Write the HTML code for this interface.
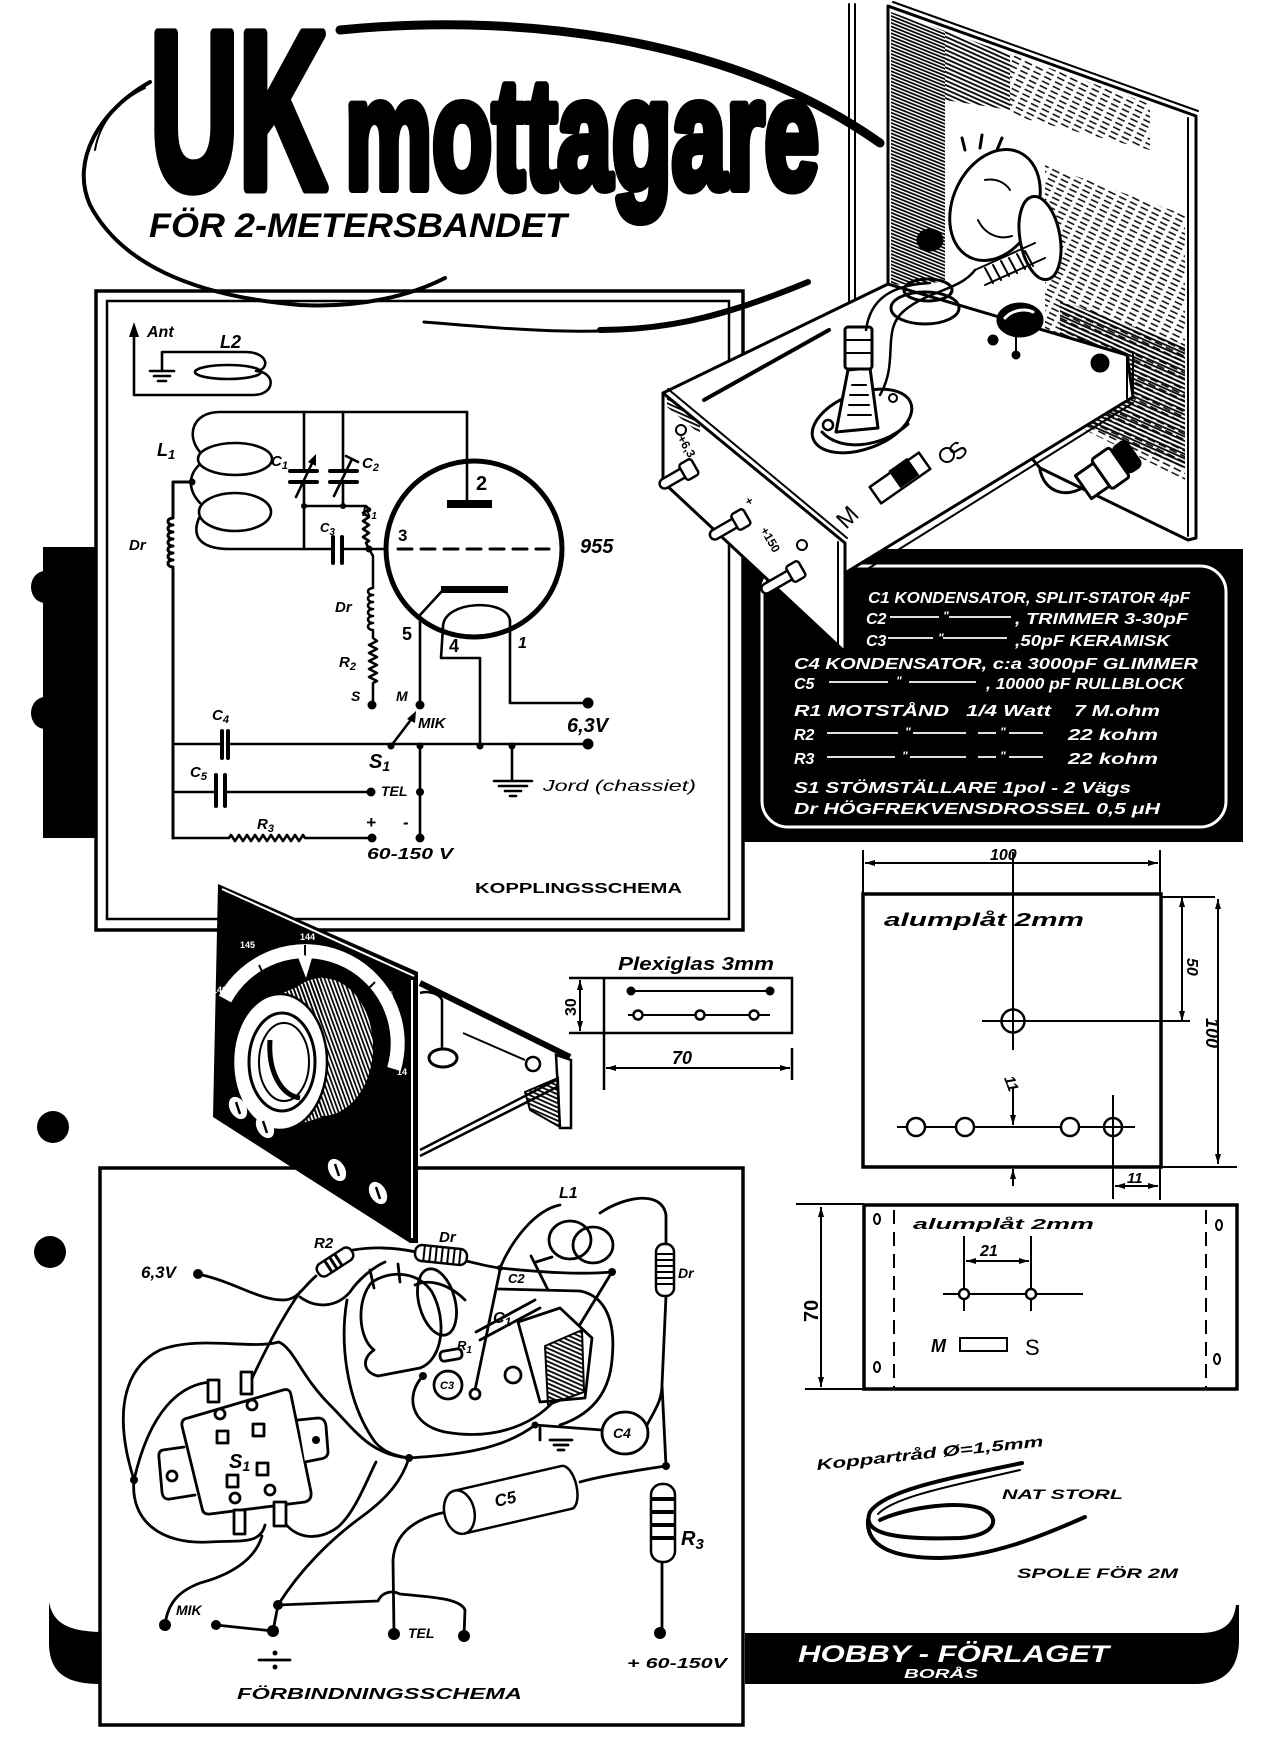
<!DOCTYPE html>
<html><head><meta charset="utf-8">
<style>
html,body{margin:0;padding:0;background:#fff;}
svg{display:block;}
text{font-family:"Liberation Sans",sans-serif;}
.i{font-style:italic;font-weight:bold;}
.b{font-weight:bold;}
</style></head><body>
<svg width="1267" height="1747" viewBox="0 0 1267 1747" xmlns="http://www.w3.org/2000/svg">
<defs>
<pattern id="hd" width="8" height="4" patternUnits="userSpaceOnUse" patternTransform="rotate(24)"><line x1="0" y1="1" x2="8" y2="1" stroke="#000" stroke-width="1.8"/></pattern>
<pattern id="hs" width="10" height="3.2" patternUnits="userSpaceOnUse" patternTransform="rotate(22)"><line x1="0" y1="1" x2="10" y2="1" stroke="#000" stroke-width="1.7"/></pattern>
<pattern id="hl" width="12" height="5" patternUnits="userSpaceOnUse" patternTransform="rotate(26)"><line x1="0" y1="1" x2="8" y2="1" stroke="#000" stroke-width="1.5"/></pattern>
<pattern id="hk" width="4" height="3.6" patternUnits="userSpaceOnUse" patternTransform="rotate(70)"><line x1="0" y1="1" x2="4" y2="1" stroke="#000" stroke-width="1.7"/></pattern>
<marker id="a" viewBox="0 0 10 6" refX="10" refY="3" markerWidth="10" markerHeight="6" markerUnits="userSpaceOnUse" orient="auto-start-reverse"><path d="M0,0 L10,3 L0,6 Z" fill="#000"/></marker>
</defs>
<rect width="1267" height="1747" fill="#fff"/>

<!-- title swoosh -->
<g fill="none" stroke="#000" stroke-linecap="round">
<path d="M150,82 C100,110 70,160 90,205 C120,262 190,296 300,305 C360,308 410,296 445,278" stroke-width="4"/>
<path d="M95,150 C100,120 120,100 145,88" stroke-width="2"/>
<path d="M340,30 C500,14 720,30 880,143" stroke-width="9"/>
<path d="M424,322 C520,330 610,338 680,322 C740,308 780,292 808,282" stroke-width="3"/>
<path d="M600,330 C680,330 740,310 808,282" stroke-width="6"/>
</g>

<!-- title -->
<text x="150" y="188" font-size="224" font-weight="bold" textLength="177" lengthAdjust="spacingAndGlyphs" stroke="#000" stroke-width="11" stroke-linejoin="round">UK</text>
<text x="345" y="188" font-size="156" font-weight="bold" textLength="474" lengthAdjust="spacingAndGlyphs" stroke="#000" stroke-width="10" stroke-linejoin="round">mottagare</text>
<text x="149" y="237" class="i" font-size="34" textLength="418" lengthAdjust="spacingAndGlyphs">FÖR 2-METERSBANDET</text>

<!-- left strip and dots -->
<rect x="43" y="547" width="54" height="291" fill="#000"/>
<ellipse cx="45" cy="587" rx="14" ry="16" fill="#000"/>
<ellipse cx="45" cy="713" rx="14" ry="16" fill="#000"/>
<circle cx="53" cy="1127" r="16" fill="#000"/>
<circle cx="50" cy="1252" r="16" fill="#000"/>

<!-- upper schematic frame -->
<rect x="96" y="291" width="647" height="639" fill="none" stroke="#000" stroke-width="3.5"/>
<rect x="107" y="301" width="622" height="618" fill="none" stroke="#000" stroke-width="2.5"/>

<!-- schematic -->
<g fill="none" stroke="#000" stroke-width="2.6" stroke-linecap="round" stroke-linejoin="round">
<path d="M134,330 V395 H253 C276,395 276,372 256,371"/>
<path d="M162,371 V352 H245 C268,352 270,368 258,371"/>
<ellipse cx="228" cy="372" rx="33" ry="7"/>
<path d="M150,371 H174 M154,376 H170 M158,381 H166"/>
<path d="M467,412 H220 C192,412 186,436 200,452"/>
<ellipse cx="235" cy="459" rx="37" ry="16"/>
<ellipse cx="235" cy="512" rx="36" ry="19"/>
<path d="M199,465 C188,476 188,490 200,503"/>
<path d="M199,518 C190,540 205,549 230,549 H333"/>
<path d="M192,482 H173 V518 a5,3.5 0 1 0 0,7 a5,3.5 0 1 0 0,7 a5,3.5 0 1 0 0,7 a5,3.5 0 1 0 0,7 a5,3.5 0 1 0 0,7 a5,3.5 0 1 0 0,7 a5,3.5 0 1 0 0,7 V838" stroke-width="3"/>
<circle cx="474" cy="549" r="88" stroke-width="5"/>
<path d="M467,412 V502"/>
<path d="M398,549 H549" stroke-width="3" stroke-dasharray="14,9"/>
<path d="M443,590 L420,615 V705"/>
<path d="M443,627 C443,600 508,598 510,621"/>
<path d="M443,627 L441,658 H480 V746"/>
<path d="M510,621 V703 H588"/>
<path d="M304,412 V471 M304,482 V549"/>
<path d="M290,471 H317 M290,482 H317" stroke-width="4"/>
<path d="M296,497 L314,459"/>
<path d="M343,412 V471 M343,482 V506 M304,506 H365"/>
<path d="M330,471 H357 M330,482 H357" stroke-width="4"/>
<path d="M334,496 L352,459 M346,456 L358,462"/>
<path d="M333,537 V563 M342,537 V563" stroke-width="4"/>
<path d="M342,549 H386"/>
<path d="M366,506 l3,3 l-6,4 l6,4 l-6,4 l6,4 l-6,4 l6,4 l-6,4 l6,4 l-3,2 L369,549"/>
<path d="M369,549 L373,556 V588 a5,3.5 0 1 0 0,7 a5,3.5 0 1 0 0,7 a5,3.5 0 1 0 0,7 a5,3.5 0 1 0 0,7 a5,3.5 0 1 0 0,7 a5,3.5 0 1 0 0,7 V638 l4,3 l-8,4 l8,4 l-8,4 l8,4 l-8,4 l8,4 l-8,4 l8,4 l-8,4 l8,4 l-4,2 V705" stroke-width="2.5"/>
<path d="M173,744 H222 M228,744 H588"/>
<path d="M222,731 V758 M228,731 V758" stroke-width="4"/>
<path d="M173,792 H216 M225,792 H371"/>
<path d="M216,775 V806 M225,775 V806" stroke-width="4"/>
<path d="M173,838 H229 l2,-3 l4,6 l4,-6 l4,6 l4,-6 l4,6 l4,-6 l4,6 l4,-6 l4,6 l4,-6 l4,6 l4,-6 l4,6 l4,-6 l4,6 l4,-6 l4,6 l4,-6 l2,3 H372"/>
<path d="M420,744 V838"/>
<path d="M512,744 V781 M494,781 H532 M499,786 H527 M505,791 H521 M510,796 H516"/>
<path d="M391,746 L413,717"/>
</g>
<g fill="#000">
<path d="M129,337 L134,322 L139,337 Z"/>
<rect x="447" y="500" width="45" height="8"/>
<rect x="441" y="586" width="67" height="7"/>
<path d="M308,462 L316,454 L316,466 Z"/>
<path d="M407,719 L416,711 L415,723 Z"/>
<circle cx="192" cy="482" r="3.5"/><circle cx="304" cy="506" r="3"/><circle cx="343" cy="506" r="3"/><circle cx="369" cy="549" r="3.5"/>
<circle cx="391" cy="746" r="3.5"/><circle cx="420" cy="746" r="3.5"/><circle cx="480" cy="746" r="3.5"/><circle cx="512" cy="746" r="3.5"/>
<circle cx="588" cy="744" r="5.5"/><circle cx="588" cy="703" r="5.5"/><circle cx="420" cy="705" r="4.5"/><circle cx="372" cy="705" r="4.5"/>
<circle cx="371" cy="792" r="4.5"/><circle cx="420" cy="792" r="4"/><circle cx="372" cy="838" r="4.5"/><circle cx="420" cy="838" r="4.5"/>
</g>
<g class="i" fill="#000">
<text x="147" y="337" font-size="16">Ant</text>
<text x="220" y="348" font-size="18">L2</text>
<text x="157" y="456" font-size="18">L<tspan font-size="13" dy="3">1</tspan></text>
<text x="271" y="466" font-size="15">C<tspan font-size="11" dy="3">1</tspan></text>
<text x="362" y="468" font-size="15">C<tspan font-size="11" dy="3">2</tspan></text>
<text x="320" y="532" font-size="13">C<tspan font-size="10" dy="3">3</tspan></text>
<text x="362" y="516" font-size="13">R<tspan font-size="10" dy="3">1</tspan></text>
<text x="129" y="550" font-size="15">Dr</text>
<text x="335" y="612" font-size="15">Dr</text>
<text x="339" y="667" font-size="15">R<tspan font-size="11" dy="3">2</tspan></text>
<text x="351" y="701" font-size="14">S</text>
<text x="396" y="701" font-size="14">M</text>
<text x="476" y="490" font-size="20" font-style="normal">2</text>
<text x="398" y="541" font-size="17" font-style="normal">3</text>
<text x="580" y="553" font-size="20">955</text>
<text x="402" y="640" font-size="18" font-style="normal">5</text>
<text x="449" y="652" font-size="18" font-style="normal">4</text>
<text x="518" y="648" font-size="16">1</text>
<text x="212" y="720" font-size="15">C<tspan font-size="11" dy="3">4</tspan></text>
<text x="190" y="777" font-size="15">C<tspan font-size="11" dy="3">5</tspan></text>
<text x="257" y="829" font-size="15">R<tspan font-size="11" dy="3">3</tspan></text>
<text x="418" y="728" font-size="15">MIK</text>
<text x="567" y="732" font-size="20">6,3V</text>
<text x="369" y="768" font-size="20">S<tspan font-size="14" dy="3">1</tspan></text>
<text x="381" y="796" font-size="14">TEL</text>
<text x="366" y="828" font-size="17">+</text>
<text x="403" y="828" font-size="17">-</text>
<text x="367" y="859" font-size="16" textLength="86" lengthAdjust="spacingAndGlyphs">60-150 V</text>
<text x="543" y="791" font-size="16" font-weight="normal" textLength="153" lengthAdjust="spacingAndGlyphs">Jord (chassiet)</text>
</g>
<text x="475" y="893" class="b" font-size="15" textLength="207" lengthAdjust="spacingAndGlyphs">KOPPLINGSSCHEMA</text>

<!-- dark legend box -->
<rect x="743" y="549" width="500" height="293" fill="#000"/>
<rect x="762" y="566" width="464" height="261" rx="26" fill="none" stroke="#fff" stroke-width="3"/>
<g class="i" fill="#fff" font-size="16">
<text x="868" y="603" textLength="322" lengthAdjust="spacingAndGlyphs">C1 KONDENSATOR, SPLIT-STATOR  4pF</text>
<text x="866" y="624">C2</text><text x="943" y="620" font-size="12">"</text>
<text x="1015" y="624" textLength="173" lengthAdjust="spacingAndGlyphs">, TRIMMER  3-30pF</text>
<text x="866" y="646">C3</text><text x="938" y="642" font-size="12">"</text>
<text x="1015" y="646" textLength="155" lengthAdjust="spacingAndGlyphs">,50pF KERAMISK</text>
<text x="794" y="669" textLength="404" lengthAdjust="spacingAndGlyphs">C4 KONDENSATOR, c:a  3000pF GLIMMER</text>
<text x="794" y="689">C5</text><text x="896" y="685" font-size="12">"</text>
<text x="986" y="689" textLength="198" lengthAdjust="spacingAndGlyphs">, 10000 pF RULLBLOCK</text>
<text x="794" y="716" textLength="155" lengthAdjust="spacingAndGlyphs">R1 MOTSTÅND</text>
<text x="966" y="716" textLength="85" lengthAdjust="spacingAndGlyphs">1/4 Watt</text>
<text x="1074" y="716" textLength="86" lengthAdjust="spacingAndGlyphs">7 M.ohm</text>
<text x="794" y="740">R2</text><text x="905" y="736" font-size="12">"</text><text x="1000" y="736" font-size="12">"</text>
<text x="1068" y="740" textLength="90" lengthAdjust="spacingAndGlyphs">22 kohm</text>
<text x="794" y="764">R3</text><text x="902" y="760" font-size="12">"</text><text x="1000" y="760" font-size="12">"</text>
<text x="1068" y="764" textLength="90" lengthAdjust="spacingAndGlyphs">22 kohm</text>
<text x="794" y="793" textLength="337" lengthAdjust="spacingAndGlyphs">S1 STÖMSTÄLLARE  1pol - 2 Vägs</text>
<text x="794" y="814" textLength="366" lengthAdjust="spacingAndGlyphs">Dr HÖGFREKVENSDROSSEL  0,5 μH</text>
</g>
<g stroke="#fff" stroke-width="1.8">
<path d="M890,617 H939 M949,617 H1011"/>
<path d="M888,638 H933 M943,638 H1007"/>
<path d="M829,682 H888 M909,682 H976"/>
<path d="M827,733 H898 M913,733 H966 M978,733 H996 M1009,733 H1043"/>
<path d="M827,757 H895 M910,757 H966 M978,757 H996 M1009,757 H1043"/>
</g>

<!-- 3D chassis illustration -->
<g stroke="#000" stroke-linecap="round" stroke-linejoin="round">
<polygon points="888,6 1196,116 1196,538 1188,540 1040,468 888,290" fill="#fff" stroke-width="3"/>
<path d="M893,2 L1198,111" stroke-width="2" fill="none"/>
<path d="M1188,118 V536" stroke-width="2"/>
<polygon points="891,12 945,31 945,282 891,285" fill="url(#hs)" stroke="none"/>
<polygon points="945,31 1010,54 1010,110 945,100" fill="url(#hd)" stroke="none"/>
<polygon points="1010,54 1150,104 1150,150 1010,115" fill="url(#hl)" stroke="none"/>
<polygon points="1045,165 1185,215 1185,480 1045,410" fill="url(#hl)" stroke="none"/>
<polygon points="1060,300 1185,345 1185,470 1060,415" fill="url(#hd)" stroke="none"/>
<path d="M849,4 V320 C849,330 853,336 858,340 M855,4 V318 C855,326 859,332 864,336" stroke-width="2" fill="none"/>
<polygon points="663,393 888,284 1127,355 1133,397 845,573" fill="#fff" stroke-width="3"/>
<path d="M704,400 L829,330" stroke-width="4"/>
<path d="M1127,355 V398 M1133,352 V397" stroke-width="2"/>
<path d="M1133,403 L850,580" stroke-width="2"/>
<polygon points="663,393 845,543 845,652 663,482" fill="#fff" stroke-width="3"/>
<path d="M668,389 L847,538" stroke-width="2"/>
<polygon points="667,396 700,423 700,434 667,407" fill="url(#hd)" stroke="none"/>
<path d="M838,542 V648" stroke-width="2"/>
<circle cx="681" cy="430" r="5" fill="none" stroke-width="2"/>
<circle cx="802" cy="545" r="5" fill="none" stroke-width="2"/>
<g transform="translate(688,470) rotate(-30)"><rect x="-32" y="-5" width="30" height="10" rx="5" fill="#fff" stroke-width="2.5"/><rect x="-6" y="-9" width="14" height="18" rx="3" fill="#fff" stroke-width="2.5"/></g>
<g transform="translate(740,520) rotate(-30)"><rect x="-34" y="-5" width="32" height="10" rx="5" fill="#fff" stroke-width="2.5"/><rect x="-6" y="-9" width="14" height="18" rx="3" fill="#fff" stroke-width="2.5"/></g>
<g transform="translate(795,572) rotate(-30)"><rect x="-38" y="-5" width="36" height="10" rx="5" fill="#fff" stroke-width="2.5"/><rect x="-6" y="-9" width="14" height="18" rx="3" fill="#fff" stroke-width="2.5"/></g>
<ellipse cx="862" cy="421" rx="52" ry="28" transform="rotate(-20 862 421)" fill="#fff" stroke-width="3"/>
<path d="M822,432 C840,452 882,448 908,424" stroke-width="3" fill="none"/>
<circle cx="828" cy="425" r="5" stroke-width="2.5" fill="#fff"/>
<circle cx="893" cy="398" r="4" stroke-width="2" fill="#fff"/>
<polygon points="836,432 878,428 870,368 848,370" fill="#fff" stroke-width="3"/>
<path d="M852,385 H866 M850,395 H868 M849,405 H869 M848,415 H871" stroke-width="2"/>
<rect x="845" y="327" width="27" height="42" rx="3" fill="#fff" stroke-width="3"/>
<path d="M845,340 H872 M845,353 H872" stroke-width="2"/>
<path d="M866,330 C870,300 890,285 930,283" stroke-width="2.5" fill="none"/>
<path d="M880,395 C900,360 880,330 905,310 C930,290 960,290 975,270" stroke-width="2.5" fill="none"/>
<ellipse cx="928" cy="290" rx="24" ry="11" fill="none" stroke-width="3"/>
<ellipse cx="925" cy="308" rx="34" ry="16" fill="none" stroke-width="3"/>
<ellipse cx="995" cy="205" rx="42" ry="58" transform="rotate(25 995 205)" fill="#fff" stroke-width="3"/>
<ellipse cx="1040" cy="238" rx="20" ry="42" transform="rotate(-10 1040 238)" fill="#fff" stroke-width="3"/>
<path d="M965,150 L962,138 M980,148 L982,135 M997,150 L1002,138" stroke-width="3"/>
<path d="M985,180 C995,178 1005,182 1010,190 M978,220 C985,235 1000,240 1012,236" stroke-width="2" fill="none"/>
<ellipse cx="930" cy="240" rx="13" ry="11" fill="#000"/>
<path d="M975,270 L1035,243 M985,285 L1045,258" stroke-width="2"/>
<path d="M985,268 L993,283 M993,265 L1001,280 M1001,261 L1009,276 M1009,258 L1017,273 M1017,254 L1025,269 M1025,251 L1033,266" stroke-width="2"/>
<ellipse cx="1020" cy="320" rx="23" ry="17" fill="#000"/>
<path d="M1005,318 C1012,310 1025,308 1033,312" stroke="#fff" stroke-width="3" fill="none"/>
<circle cx="993" cy="340" r="5" fill="#000"/>
<path d="M1016,337 V352" stroke-width="2"/>
<circle cx="1016" cy="355" r="4" fill="#000"/>
<circle cx="1100" cy="363" r="9" fill="#000"/>
<g transform="translate(900,478) rotate(-35)"><rect x="-30" y="-10" width="60" height="20" fill="#fff" stroke-width="2.5"/><rect x="-5" y="-12" width="22" height="20" fill="#000"/></g>
<circle cx="947" cy="455" r="7" fill="#fff" stroke-width="2"/>
<path d="M1040,470 C1045,492 1065,498 1082,488" stroke-width="3" fill="none"/>
<g transform="translate(1108,470) rotate(-35)"><rect x="-30" y="-14" width="22" height="28" fill="#fff" stroke-width="3"/><rect x="-8" y="-18" width="22" height="36" rx="3" fill="#fff" stroke-width="3"/><rect x="14" y="-16" width="18" height="32" rx="6" fill="#000"/></g>
</g>
<text transform="translate(846,530) rotate(-45)" font-size="24">M</text>
<text transform="translate(958,462) rotate(-45)" font-size="24">S</text>
<text transform="translate(677,438) rotate(60)" font-size="12" class="b">+6,3</text>
<text transform="translate(744,500) rotate(60)" font-size="12" class="b">+</text>
<text transform="translate(760,530) rotate(60)" font-size="12" class="b">+150</text>

<!-- lower frame -->
<rect x="100" y="1168" width="643" height="557" fill="none" stroke="#000" stroke-width="3.5"/>

<!-- dial panel -->
<polygon points="218,884 418,972 418,1243 410,1243 213,1117" fill="#000"/>
<path d="M222,889 L414,976" stroke="#fff" stroke-width="2"/>
<path d="M412,980 V1238" stroke="#fff" stroke-width="2"/>
<path d="M225,999 A92,92 0 0 1 394,1069" fill="none" stroke="#fff" stroke-width="14"/>
<path d="M259,965 L265,978 M305,945 L305,960 M375,982 L365,992" stroke="#000" stroke-width="2"/>
<g fill="#fff" font-size="9" class="b">
<text x="212" y="993">146</text><text x="240" y="948">145</text><text x="300" y="940">144</text><text x="378" y="998">145</text><text x="397" y="1075">14</text>
</g>
<polygon points="296,952 312,958 306,978" fill="#fff"/>
<g stroke="#000">
<ellipse cx="322" cy="1047" rx="52" ry="70" fill="#fff" stroke-width="2"/>
<polygon points="280,994 322,977 322,1117 280,1130" fill="#fff" stroke="none"/>
<ellipse cx="322" cy="1047" rx="52" ry="70" fill="url(#hk)" stroke="none"/>
<polygon points="280,994 322,977 322,1117 280,1130" fill="url(#hk)" stroke="none"/>
<ellipse cx="280" cy="1062" rx="47" ry="68" fill="#fff" stroke-width="2.5"/>
<ellipse cx="282" cy="1062" rx="33" ry="49" fill="none" stroke-width="3"/>
<ellipse cx="284" cy="1062" rx="25" ry="39" fill="#fff" stroke-width="2"/>
<path d="M270,1040 C268,1070 280,1095 300,1098" stroke-width="5" fill="none"/>
</g>
<g fill="#fff">
<ellipse cx="238" cy="1108" rx="8" ry="12" transform="rotate(-30 238 1108)"/>
<ellipse cx="265" cy="1127" rx="8" ry="12" transform="rotate(-30 265 1127)"/>
<ellipse cx="337" cy="1170" rx="8" ry="12" transform="rotate(-30 337 1170)"/>
<ellipse cx="378" cy="1193" rx="8" ry="12" transform="rotate(-30 378 1193)"/>
</g>
<path d="M236,1102 L240,1114 M263,1121 L267,1133 M335,1164 L339,1176 M376,1187 L380,1199" stroke="#000" stroke-width="2.5"/>
<g stroke="#000" fill="none">
<path d="M420,983 L570,1057" stroke-width="6"/>
<path d="M420,1150 L560,1078 M420,1156 L563,1084" stroke-width="2.5"/>
<polygon points="556,1055 571,1060 571,1128 560,1128" fill="#fff" stroke-width="2.5"/>
<polygon points="525,1092 558,1078 560,1127 530,1110" fill="url(#hd)" stroke-width="2"/>
<path d="M420,993 C430,990 440,995 442,1000 V1050" stroke-width="2.5"/>
<ellipse cx="443" cy="1058" rx="14" ry="9" stroke-width="3"/>
<circle cx="533" cy="1064" r="7" fill="#fff" stroke-width="2.5"/>
<path d="M463,1033 L525,1060" stroke-width="2"/>
</g>

<!-- plexiglas -->
<g stroke="#000" fill="none" stroke-width="2.5">
<path d="M604,978 H792 V1033 H604 M604,978 V1090 M792,1048 V1080"/>
<path d="M569,978 H604 M569,1033 H604"/>
<path d="M580,980 V1031" stroke-width="2" marker-start="url(#a)" marker-end="url(#a)"/>
<path d="M606,1068 H790" stroke-width="2" marker-start="url(#a)" marker-end="url(#a)"/>
<path d="M631,991 H770 M628,1015 H770" stroke-width="2"/>
<circle cx="638" cy="1015" r="4.5" fill="#fff"/><circle cx="700" cy="1015" r="4.5" fill="#fff"/><circle cx="754" cy="1015" r="4.5" fill="#fff"/>
</g>
<circle cx="631" cy="991" r="4.5"/><circle cx="770" cy="991" r="4.5"/>
<text x="618" y="970" class="i" font-size="18" textLength="156" lengthAdjust="spacingAndGlyphs">Plexiglas 3mm</text>
<text transform="translate(576,1016) rotate(-90)" class="b" font-size="16">30</text>
<text x="672" y="1064" class="i" font-size="18">70</text>

<!-- dimension drawing 1 -->
<g stroke="#000" fill="none" stroke-width="2">
<rect x="863" y="894" width="298" height="273" stroke-width="3.5"/>
<path d="M865,863 H1158" marker-start="url(#a)" marker-end="url(#a)"/>
<path d="M863,850 V894 M1160,850 V894"/>
<path d="M1013,852 V1050 M982,1021 H1190"/>
<circle cx="1013" cy="1021" r="11.5" stroke-width="2.5"/>
<path d="M1182,897 V1021" marker-start="url(#a)" marker-end="url(#a)"/>
<path d="M1218,899 V1164" marker-start="url(#a)" marker-end="url(#a)"/>
<path d="M1161,897 H1215 M1161,1167 H1237"/>
<path d="M897,1127 H1135 M1113,1095 V1199"/>
<circle cx="916" cy="1127" r="9" fill="#fff" stroke-width="2.5"/><circle cx="965" cy="1127" r="9" fill="#fff" stroke-width="2.5"/>
<circle cx="1070" cy="1127" r="9" fill="#fff" stroke-width="2.5"/><circle cx="1113" cy="1127" r="9" stroke-width="2.5"/>
<path d="M1013,1087 V1125" marker-end="url(#a)"/>
<path d="M1013,1186 V1169" marker-end="url(#a)"/>
<path d="M1115,1186 H1158" marker-start="url(#a)" marker-end="url(#a)"/>
<path d="M1160,1167 V1200"/>
</g>
<text x="990" y="860" class="i" font-size="16">100</text>
<text x="884" y="926" class="i" font-size="18" textLength="200" lengthAdjust="spacingAndGlyphs">alumplåt 2mm</text>
<text transform="translate(1187,958) rotate(90)" class="i" font-size="16">50</text>
<text transform="translate(1206,1018) rotate(90)" class="i" font-size="18">100</text>
<text transform="translate(1004,1078) rotate(70)" class="i" font-size="15">11</text>
<text x="1127" y="1183" class="i" font-size="15">11</text>

<!-- dimension drawing 2 -->
<g stroke="#000" fill="none" stroke-width="2">
<rect x="864" y="1205" width="373" height="184" stroke-width="3.5"/>
<path d="M821,1207 V1387" marker-start="url(#a)" marker-end="url(#a)"/>
<path d="M796,1204 H864 M805,1389 H864"/>
<path d="M894,1210 V1389 M1206,1210 V1389" stroke-dasharray="14,8"/>
<path d="M966,1261 H1029" marker-start="url(#a)" marker-end="url(#a)"/>
<path d="M964,1236 V1311 M1031,1236 V1311 M943,1294 H1083"/>
<circle cx="964" cy="1294" r="5" fill="#fff" stroke-width="2.5"/><circle cx="1031" cy="1294" r="5" fill="#fff" stroke-width="2.5"/>
<ellipse cx="877" cy="1219" rx="3" ry="5"/><ellipse cx="1219" cy="1225" rx="3" ry="5"/>
<ellipse cx="877" cy="1367" rx="3" ry="5"/><ellipse cx="1217" cy="1359" rx="3" ry="5"/>
<rect x="960" y="1338" width="47" height="13" stroke-width="2"/>
</g>
<text transform="translate(818,1322) rotate(-90)" class="b" font-size="20">70</text>
<text x="913" y="1229" class="i" font-size="15" textLength="181" lengthAdjust="spacingAndGlyphs">alumplåt 2mm</text>
<text x="980" y="1256" class="i" font-size="16">21</text>
<text x="931" y="1352" class="i" font-size="18">M</text>
<text x="1025" y="1355" font-size="22">S</text>

<!-- copper wire -->
<text transform="translate(817,1470) rotate(-6)" class="i" font-size="15" textLength="228" lengthAdjust="spacingAndGlyphs">Koppartråd Ø=1,5mm</text>
<g fill="none" stroke="#000" stroke-width="4" stroke-linecap="round">
<path d="M1022,1463 C950,1478 885,1490 870,1512 C860,1535 900,1540 960,1538 C1000,1535 1000,1515 980,1508 C950,1500 900,1510 880,1520"/>
<path d="M1085,1517 C1040,1537 990,1557 940,1558 C890,1558 866,1545 868,1520"/>
<path d="M1020,1470 C960,1484 895,1496 878,1514" stroke-width="2"/>
</g>
<text x="1002" y="1499" class="i" font-size="14" textLength="121" lengthAdjust="spacingAndGlyphs">NAT STORL</text>
<text x="1017" y="1578" class="i" font-size="14" textLength="161" lengthAdjust="spacingAndGlyphs">SPOLE FÖR 2M</text>

<!-- bottom band -->
<path d="M49,1602 C53,1622 66,1631 100,1632 L100,1684 C65,1684 50,1672 49,1645 Z" fill="#000"/>
<path d="M745,1633 L1200,1633 C1225,1633 1234,1622 1236,1605 L1239,1605 L1239,1640 C1239,1668 1225,1684 1195,1684 L745,1684 Z" fill="#000"/>
<text x="798" y="1662" class="i" font-size="24" fill="#fff" textLength="311" lengthAdjust="spacingAndGlyphs">HOBBY - FÖRLAGET</text>
<text x="904" y="1678" class="i" font-size="13" fill="#fff" textLength="74" lengthAdjust="spacingAndGlyphs">BORÅS</text>

<!-- connection diagram -->
<g fill="none" stroke="#000" stroke-width="2.8" stroke-linecap="round" stroke-linejoin="round">
<path d="M198,1274 C235,1282 258,1300 283,1300 C298,1300 302,1288 316,1276"/>
<path d="M353,1250 C378,1246 398,1248 416,1252"/>
<path d="M466,1261 C480,1264 490,1267 500,1268"/>
<path d="M500,1268 C512,1240 535,1210 560,1205"/>
<ellipse cx="570" cy="1240" rx="21" ry="19"/>
<ellipse cx="593" cy="1245" rx="20" ry="18"/>
<path d="M600,1213 C625,1196 662,1190 666,1215 L666,1244"/>
<path d="M500,1268 C540,1272 580,1275 612,1272"/>
<path d="M612,1272 L543,1385"/>
<path d="M498,1289 L580,1291 C606,1296 616,1322 612,1360 C609,1395 590,1415 560,1425"/>
<path d="M500,1270 L475,1390"/>
<path d="M531,1256 L548,1290 M536,1262 L552,1257"/>
<path d="M372,1282 C356,1300 358,1338 374,1350 C362,1358 362,1372 378,1376 L420,1368 C442,1360 448,1322 432,1292 C420,1274 395,1268 372,1282 Z" fill="#fff"/>
<ellipse cx="437" cy="1302" rx="18" ry="34" transform="rotate(-15 437 1302)"/>
<path d="M370,1270 L374,1288 M398,1264 L400,1282"/>
<path d="M415,1285 C430,1278 450,1285 465,1300"/>
<path d="M423,1376 C405,1395 410,1425 445,1432 C490,1440 530,1428 555,1400"/>
<path d="M347,1300 C340,1340 345,1400 375,1442 C382,1450 390,1455 409,1458"/>
<path d="M300,1297 C318,1310 338,1306 350,1292 C358,1280 372,1268 385,1262"/>
<polygon points="518,1322 560,1308 592,1338 585,1398 540,1402" fill="#fff"/>
<polygon points="545,1346 582,1330 584,1392 548,1405" fill="url(#hd)" stroke-width="2"/>
<path d="M476,1332 L535,1300 M480,1340 L540,1308"/>
<circle cx="513" cy="1375" r="8" fill="#fff"/>
<circle cx="475" cy="1394" r="5" fill="#fff"/>
<circle cx="448" cy="1385" r="14" fill="#fff"/>
<rect x="440" y="1350" width="22" height="10" rx="4" transform="rotate(-10 451 1355)" fill="#fff"/>
<ellipse cx="625" cy="1433" rx="23" ry="21" fill="#fff"/>
<path d="M535,1425 L602,1430"/>
<path d="M647,1425 C655,1410 662,1400 662,1385 M666,1296 L662,1385 L666,1466"/>
<path d="M540,1428 V1440 M550,1440 H572 M554,1445 H568 M558,1450 H564"/>
<path d="M409,1458 C450,1455 500,1452 535,1425"/>
<path d="M666,1466 C640,1470 605,1475 580,1482"/>
<path d="M662,1562 V1633"/>
<path d="M458,1510 C420,1515 395,1530 393,1560 L394,1634"/>
<path d="M278,1605 L378,1601 C382,1592 392,1590 400,1594 C430,1597 460,1598 465,1610 L464,1636"/>
<path d="M278,1605 L273,1631 M216,1625 L273,1631"/>
<path d="M165,1625 C168,1600 182,1590 200,1583 C230,1575 255,1560 262,1536"/>
<path d="M278,1605 C300,1570 330,1540 360,1518 C388,1498 402,1480 409,1458"/>
<path d="M280,1515 C292,1540 318,1542 338,1527 C355,1512 366,1482 376,1462"/>
<path d="M134,1480 C115,1420 120,1370 160,1350 C200,1335 250,1350 279,1342 C295,1350 300,1375 330,1405 C355,1430 370,1455 409,1458"/>
<path d="M134,1480 C130,1520 160,1545 210,1542 C240,1540 260,1545 265,1525"/>
<path d="M210,1382 C180,1385 150,1410 134,1480"/>
<path d="M249,1385 C265,1350 282,1318 300,1292"/>
<path d="M188,1418 L283,1390 Q290,1388 291,1395 L311,1492 Q312,1500 305,1502 L210,1514 Q203,1515 202,1508 L182,1426 Q181,1419 188,1418 Z" fill="#fff"/>
<path d="M184,1447 L163,1450 Q158,1451 159,1458 L162,1492 Q163,1500 170,1499 L195,1495" fill="#fff"/>
<path d="M298,1420 L318,1418 Q325,1418 326,1426 L328,1452 Q328,1458 320,1459 L305,1462" fill="#fff"/>
<circle cx="172" cy="1476" r="5"/>
<rect x="208" y="1380" width="11" height="22" fill="#fff"/><rect x="241" y="1372" width="11" height="22" fill="#fff"/>
<rect x="234" y="1510" width="11" height="24" fill="#fff"/><rect x="274" y="1502" width="12" height="24" fill="#fff"/>
<circle cx="220" cy="1414" r="5"/><circle cx="252" cy="1405" r="5"/><circle cx="235" cy="1498" r="5"/><circle cx="270" cy="1490" r="5"/>
<rect x="217" y="1431" width="11" height="12"/><rect x="253" y="1424" width="11" height="12"/>
<rect x="227" y="1475" width="11" height="12"/><rect x="257" y="1463" width="11" height="12"/>
<path d="M259,1660 H290"/>
</g>
<g stroke="#000" stroke-width="2.5">
<g transform="translate(335,1262) rotate(-33)"><rect x="-20" y="-7" width="40" height="14" rx="6" fill="#fff"/><path d="M-8,-7 V7 M-2,-7 V7 M4,-7 V7" stroke-width="3"/></g>
<g transform="translate(441,1255) rotate(6)"><rect x="-26" y="-8" width="52" height="16" rx="7" fill="#fff"/><path d="M-17,-8 V8 M-11,-8 V8 M-5,-8 V8 M1,-8 V8 M7,-8 V8 M13,-8 V8 M19,-8 V8" stroke-width="2"/></g>
<g transform="translate(665,1270)"><rect x="-9" y="-26" width="18" height="52" rx="8" fill="#fff"/><path d="M-9,-16 H9 M-9,-10 H9 M-9,-4 H9 M-9,2 H9 M-9,8 H9 M-9,14 H9" stroke-width="2"/></g>
<g transform="translate(663,1523)"><rect x="-12" y="-39" width="24" height="78" rx="11" fill="#fff"/><path d="M-12,-24 H12 M-12,-11 H12 M-12,2 H12 M-12,15 H12" stroke-width="4"/></g>
<g transform="rotate(-13 512 1500)"><path d="M458,1478 H568 A10,22 0 0 1 568,1522 H458" fill="#fff"/><ellipse cx="458" cy="1500" rx="15" ry="22" fill="#fff"/></g>
</g>
<g fill="#000">
<circle cx="198" cy="1274" r="5"/><circle cx="500" cy="1268" r="3"/><circle cx="612" cy="1272" r="4"/>
<circle cx="423" cy="1376" r="4"/><circle cx="535" cy="1425" r="3.5"/><circle cx="409" cy="1458" r="4"/>
<circle cx="666" cy="1466" r="4"/><circle cx="134" cy="1480" r="4"/><circle cx="316" cy="1440" r="4"/>
<circle cx="165" cy="1625" r="6"/><circle cx="216" cy="1625" r="5"/><circle cx="273" cy="1631" r="6"/>
<circle cx="278" cy="1605" r="5"/><circle cx="394" cy="1634" r="6"/><circle cx="464" cy="1636" r="6"/><circle cx="660" cy="1633" r="6"/>
<circle cx="275" cy="1653" r="2.5"/><circle cx="275" cy="1667" r="2.5"/>
</g>
<g class="i" fill="#000">
<text x="141" y="1278" font-size="17">6,3V</text>
<text x="314" y="1248" font-size="15">R2</text>
<text x="439" y="1242" font-size="15">Dr</text>
<text x="559" y="1198" font-size="16">L1</text>
<text x="508" y="1283" font-size="13">C2</text>
<text x="493" y="1323" font-size="16">C<tspan font-size="12" dy="3">1</tspan></text>
<text x="457" y="1350" font-size="13">R<tspan font-size="10" dy="3">1</tspan></text>
<text x="440" y="1389" font-size="11">C3</text>
<text x="613" y="1438" font-size="14">C4</text>
<text x="678" y="1278" font-size="14">Dr</text>
<text x="681" y="1545" font-size="20">R<tspan font-size="15" dy="4">3</tspan></text>
<text x="229" y="1468" font-size="20">S<tspan font-size="14" dy="3">1</tspan></text>
<text x="176" y="1615" font-size="14">MIK</text>
<text x="408" y="1638" font-size="14">TEL</text>
<text x="627" y="1668" font-size="15" textLength="100" lengthAdjust="spacingAndGlyphs">+ 60-150V</text>
<text x="237" y="1699" font-size="16" textLength="285" lengthAdjust="spacingAndGlyphs">FÖRBINDNINGSSCHEMA</text>
</g>
<text transform="translate(496,1507) rotate(-13)" class="i" font-size="17">C5</text>
</svg>
</body></html>
